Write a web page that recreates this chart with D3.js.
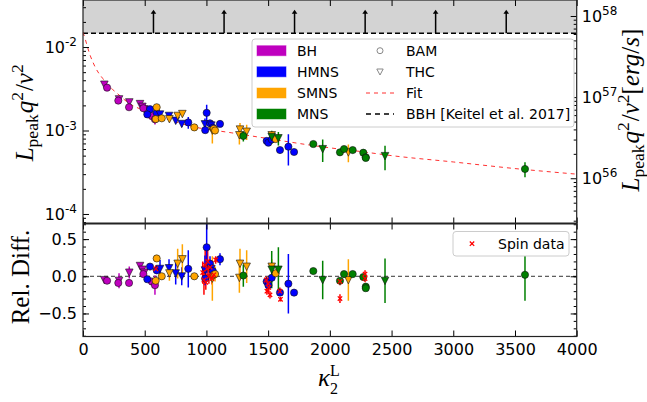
<!DOCTYPE html>
<html>
<head>
<meta charset="utf-8">
<style>
  body { margin: 0; background: #fff; }
  .tick text { font-family: "DejaVu Sans", sans-serif; font-size: 16px; fill: #000; }
  .leg { font-family: "DejaVu Sans", sans-serif; font-size: 14px; fill: #000; }
  .math { font-family: "Liberation Serif", serif; font-size: 25px; fill: #000; }
</style>
<script src="https://d3js.org/d3.v7.min.js"></script>
</head>
<body>
<svg id="chart" width="647" height="402"></svg>
<script>
// ---- data ----
const states = ['BH', 'HMNS', 'SMNS', 'MNS'];
const stateColors = ['#bf00bf', '#0000ff', '#ffa500', '#008000'];

const kappa = [173, 195, 292, 286, 375, 373, 462, 481, 497, 489, 557, 583,
  543, 521, 597, 624, 697, 751, 800, 853, 1002, 988, 990, 1029, 1040, 1052, 1110,
  1488, 1502, 1529, 1596, 1664, 1710,
  597, 589, 638, 700, 767, 805, 902, 1048, 1060, 1070, 1272, 1326, 1267, 1529, 1561, 2150,
  1299, 1529, 1583, 1866, 1942, 2082, 2115, 2185, 2271, 2291, 2291, 2447, 3581];
const lpeak = [0.00355, 0.00326, 0.00237, 0.00228, 0.00218, 0.00190, 0.00208, 0.00193, 0.00180, 0.00185, 0.00149, 0.00136,
  0.00180, 0.00156, 0.00163, 0.00156, 0.00150, 0.00131, 0.00120, 0.00125, 0.00163, 0.00119, 0.00101, 0.00122, 0.00115, 0.00108, 0.00120,
  0.00075, 0.000715, 0.00078, 0.000583, 0.00064, 0.000553,
  0.00190, 0.00137, 0.00140, 0.00137, 0.00150, 0.00158, 0.00109, 0.00100, 0.00105, 0.00100, 0.00103, 0.00097, 0.00088, 0.00088, 0.00079, 0.000548,
  0.00086, 0.00084, 0.00081, 0.000689, 0.00060, 0.000548, 0.00060, 0.000583, 0.000542, 0.000478, 0.000470, 0.000495, 0.000346];
const lpeakErr = [0.0001, 0.00008, 0.0002, 0.00006, 0.00015, 0.00006, 0.0001, 0.0001, 0.0001, 0.00005, 0.00005, 0.00018,
  0.00005, 0.00005, 0.00008, 0.00015, 0.0001, 0.0001, 0.0001, 0.0002, 0.0004, 0.0002, 0.00005, 0.0001, 0.0001, 0.00005, 0.00008,
  0.00004, 0.00004, 0.00005, 0.00003, 0.00026, 0.00003,
  0.00005, 0.00005, 0.00005, 0.0001, 0.0001, 0.0001, 0.00004, 0.0003, 0.00005, 0.0001, 0.0002, 0.0002, 0.0002, 0.0001, 0.00005, 0.00013,
  0.00012, 0.00015, 0.00015, 0.00003, 0.00018, 0.00003, 0.00003, 0.00003, 0.00003, 0.00003, 0.00003, 0.00016, 0.00007];
const relDiff = [-0.05, -0.06, -0.06, -0.09, 0.05, -0.09, 0.14, 0.09, 0.05, 0.03, -0.07, -0.12,
  0.13, -0.04, 0.08, 0.10, 0.11, 0.04, 0.00, 0.10, 0.39, 0.08, -0.03, 0.17, 0.10, 0.07, 0.23,
  -0.07, -0.12, -0.02, -0.22, -0.10, -0.22,
  0.24, -0.06, 0.00, 0.04, 0.17, 0.23, 0.00, -0.03, 0.02, 0.03, 0.17, 0.13, -0.02, 0.13, 0.04, -0.05,
  0.01, 0.09, 0.09, 0.07, -0.05, -0.06, 0.03, 0.03, -0.01, -0.14, -0.16, -0.06, 0.02];
const relErr = [0.02, 0.02, 0.10, 0.02, 0.08, 0.03, 0.04, 0.05, 0.05, 0.03, 0.03, 0.13,
  0.03, 0.03, 0.05, 0.12, 0.12, 0.15, 0.12, 0.25, 0.35, 0.20, 0.05, 0.10, 0.10, 0.05, 0.08,
  0.05, 0.05, 0.06, 0.03, 0.40, 0.03,
  0.04, 0.03, 0.03, 0.10, 0.20, 0.20, 0.03, 0.30, 0.05, 0.10, 0.20, 0.22, 0.20, 0.10, 0.05, 0.28,
  0.15, 0.25, 0.30, 0.02, 0.26, 0.03, 0.03, 0.03, 0.03, 0.03, 0.03, 0.30, 0.35];
const state = ['BH', 'BH', 'BH', 'BH', 'BH', 'BH', 'BH', 'BH', 'BH', 'BH', 'BH', 'BH',
  'HMNS', 'HMNS', 'HMNS', 'HMNS', 'HMNS', 'HMNS', 'HMNS', 'HMNS', 'HMNS', 'HMNS', 'HMNS', 'HMNS', 'HMNS', 'HMNS', 'HMNS',
  'HMNS', 'HMNS', 'HMNS', 'HMNS', 'HMNS', 'HMNS',
  'SMNS', 'SMNS', 'SMNS', 'SMNS', 'SMNS', 'SMNS', 'SMNS', 'SMNS', 'SMNS', 'SMNS', 'SMNS', 'SMNS', 'SMNS', 'SMNS', 'SMNS', 'SMNS',
  'MNS', 'MNS', 'MNS', 'MNS', 'MNS', 'MNS', 'MNS', 'MNS', 'MNS', 'MNS', 'MNS', 'MNS', 'MNS'];
const code = ['THC', 'BAM', 'THC', 'BAM', 'THC', 'BAM', 'THC', 'THC', 'THC', 'BAM', 'BAM', 'BAM',
  'BAM', 'BAM', 'BAM', 'THC', 'THC', 'THC', 'THC', 'BAM', 'BAM', 'THC', 'BAM', 'BAM', 'THC', 'BAM', 'BAM',
  'BAM', 'BAM', 'BAM', 'BAM', 'BAM', 'BAM',
  'BAM', 'BAM', 'BAM', 'THC', 'THC', 'THC', 'BAM', 'THC', 'BAM', 'BAM', 'THC', 'THC', 'THC', 'THC', 'BAM', 'THC',
  'BAM', 'THC', 'THC', 'BAM', 'THC', 'BAM', 'BAM', 'BAM', 'BAM', 'BAM', 'BAM', 'THC', 'BAM'];

// spinning configurations (lower panel only)
const spinKappa = [590, 970, 980, 990, 995, 1005, 1010, 1020, 1030, 1045, 1060, 1075,
  1485, 1490, 1500, 1505, 1515, 1600, 1595, 2082, 2082, 2285, 2285];
const spinRel = [0.10, 0.05, -0.05, 0.15, -0.08, 0.10, 0.20, 0.00, 0.12, -0.03, 0.02, 0.22,
  -0.05, -0.20, -0.10, -0.15, -0.25, -0.31, -0.20, -0.07, -0.30, 0.03, -0.03];
const spinErr = [0.05, 0.15, 0.20, 0.25, 0.10, 0.12, 0.15, 0.10, 0.10, 0.08, 0.05, 0.05,
  0.05, 0.05, 0.08, 0.06, 0.05, 0.03, 0.05, 0.05, 0.06, 0.05, 0.05];

// fit curve, sampled from the figure
const fitKappa = [0, 20, 40, 60, 80, 100, 130, 160, 190, 240, 300, 375, 460, 540, 600, 700, 800, 900,
  1000, 1200, 1500, 1866, 2000, 2250, 2500, 3000, 3500, 4000];
const fitL = [0.0150, 0.0122, 0.0096, 0.0078, 0.0066, 0.0057, 0.0048, 0.0042, 0.0036, 0.0031, 0.0026, 0.0021,
  0.00182, 0.00161, 0.0015, 0.00134, 0.00121, 0.0011, 0.00104, 0.00094, 0.0008, 0.00066, 0.00062,
  0.00056, 0.0005, 0.00042, 0.00035, 0.0003];

// BBH lower limit band
const bbhLimit = 0.0146;
const arrowKappa = [571, 1143, 1714, 2286, 2857, 3429];
const arrowTip = 0.028;

const xTicks = [0, 500, 1000, 1500, 2000, 2500, 3000, 3500, 4000];
const lTicks = [1e-4, 1e-3, 1e-2];
const ergTicks = [1e56, 1e57, 1e58];
const relTicks = [-0.5, 0, 0.5];

// ---- layout ----
const left = 83, right = 576.7, topY = 0, midY = 223.5, botY = 336.5;
const svg = d3.select('#chart');

const x = d3.scaleLinear().domain([0, 4000]).range([left, right]);
const yTop = d3.scaleLog().domain([7.69e-5, 0.0366]).range([midY, topY]);
const yErg = d3.scaleLog().domain([2.77e55, 1.574e58]).range([midY, topY]);
const yRel = d3.scaleLinear().domain([-0.81, 0.71]).range([botY, midY]);
const colorOf = s => stateColors[states.indexOf(s)];

const defs = svg.append('defs');
defs.append('clipPath').attr('id', 'clipTop').append('rect')
  .attr('x', left).attr('y', topY).attr('width', right - left).attr('height', midY - topY);
defs.append('clipPath').attr('id', 'clipBot').append('rect')
  .attr('x', left).attr('y', midY).attr('width', right - left).attr('height', botY - midY);

const pts = kappa.map((k, i) => ({k: k, L: lpeak[i], Le: lpeakErr[i], r: relDiff[i], re: relErr[i],
  c: colorOf(state[i]), code: code[i]}));

function marker(sel) {
  sel.append('path')
    .attr('d', d => d.code === 'BAM'
      ? d3.symbol(d3.symbolCircle, Math.PI * 3.6 * 3.6)()
      : 'M-3.8,-3.6L3.8,-3.6L0,3.9Z')
    .attr('fill', d => d.c)
    .attr('stroke', '#111')
    .attr('stroke-width', 0.6);
}

// ---- top panel ----
const topG = svg.append('g').attr('clip-path', 'url(#clipTop)');
topG.append('rect')
  .attr('x', left).attr('y', topY).attr('width', right - left)
  .attr('height', yTop(bbhLimit) - topY).attr('fill', '#d3d3d3');

arrowKappa.forEach(k => {
  topG.append('line')
    .attr('x1', x(k)).attr('x2', x(k))
    .attr('y1', yTop(bbhLimit)).attr('y2', yTop(arrowTip) + 3)
    .attr('stroke', '#000').attr('stroke-width', 1.5);
  topG.append('path')
    .attr('d', `M${x(k) - 2.8},${yTop(arrowTip) + 4}L${x(k) + 2.8},${yTop(arrowTip) + 4}L${x(k)},${yTop(arrowTip)}Z`)
    .attr('fill', '#000');
});

topG.append('line')
  .attr('x1', left).attr('x2', right)
  .attr('y1', yTop(bbhLimit)).attr('y2', yTop(bbhLimit))
  .attr('stroke', '#000').attr('stroke-width', 1.6).attr('stroke-dasharray', '5,3');

topG.append('path')
  .datum(fitKappa.map((k, i) => [k, fitL[i]]))
  .attr('d', d3.line().x(d => x(d[0])).y(d => yTop(d[1])).curve(d3.curveMonotoneX))
  .attr('fill', 'none').attr('stroke', '#ff3030').attr('stroke-width', 1)
  .attr('stroke-dasharray', '4,4');

topG.selectAll('line.err').data(pts).enter().append('line')
  .attr('x1', d => x(d.k)).attr('x2', d => x(d.k))
  .attr('y1', d => yTop(d.L - d.Le)).attr('y2', d => yTop(d.L + d.Le))
  .attr('stroke', d => d.c).attr('stroke-width', 1.5);

topG.selectAll('g.pt').data(pts).enter().append('g')
  .attr('transform', d => `translate(${x(d.k)},${yTop(d.L)})`)
  .call(marker);

// ---- bottom panel ----
const botG = svg.append('g').attr('clip-path', 'url(#clipBot)');
botG.append('line')
  .attr('x1', left).attr('x2', right).attr('y1', yRel(0)).attr('y2', yRel(0))
  .attr('stroke', '#333').attr('stroke-width', 1).attr('stroke-dasharray', '4,3');

const spin = spinKappa.map((k, i) => ({k: k, r: spinRel[i], re: spinErr[i]}));
botG.selectAll('line.serr').data(spin).enter().append('line')
  .attr('x1', d => x(d.k)).attr('x2', d => x(d.k))
  .attr('y1', d => yRel(d.r - d.re)).attr('y2', d => yRel(d.r + d.re))
  .attr('stroke', '#ff0000').attr('stroke-width', 1.5);

botG.selectAll('line.err').data(pts).enter().append('line')
  .attr('x1', d => x(d.k)).attr('x2', d => x(d.k))
  .attr('y1', d => yRel(d.r - d.re)).attr('y2', d => yRel(d.r + d.re))
  .attr('stroke', d => d.c).attr('stroke-width', 1.5);

botG.selectAll('g.pt').data(pts).enter().append('g')
  .attr('transform', d => `translate(${x(d.k)},${yRel(d.r)})`)
  .call(marker);

function cross(sel) {
  sel.append('path').attr('d', 'M-2.2,-2.2L2.2,2.2M-2.2,2.2L2.2,-2.2')
    .attr('stroke', '#ff0000').attr('stroke-width', 1.3);
}
botG.selectAll('g.spin').data(spin).enter().append('g')
  .attr('transform', d => `translate(${x(d.k)},${yRel(d.r)})`)
  .call(cross);

// ---- axes ----
function supLabels(g) {
  g.selectAll('.tick text').each(function(d) {
    const e = Math.round(Math.log10(d));
    const t = d3.select(this).text(null);
    t.append('tspan').text('10');
    t.append('tspan').attr('dy', '-0.55em').attr('font-size', '12px').text(e < 0 ? '-' + (-e) : e);
  });
}
function minorLog(scale) {
  const [a, b] = scale.domain();
  const out = [];
  for (let e = Math.floor(Math.log10(a)); e <= Math.ceil(Math.log10(b)); e++) {
    for (let m = 2; m <= 9; m++) {
      const v = m * Math.pow(10, e);
      if (v >= a && v <= b) out.push(v);
    }
  }
  return out;
}
function clean(g) {
  g.select('.domain').remove();
  g.selectAll('.tick line').attr('stroke', '#000');
}

svg.append('g').attr('transform', `translate(${left},0)`)
  .call(d3.axisLeft(yTop).tickValues(lTicks).tickSize(-6).tickPadding(6))
  .call(clean).call(supLabels);
svg.append('g').attr('transform', `translate(${left},0)`)
  .call(d3.axisLeft(yTop).tickValues(minorLog(yTop)).tickSize(-3).tickFormat(''))
  .call(clean);
svg.append('g').attr('transform', `translate(${right},0)`)
  .call(d3.axisRight(yErg).tickValues(ergTicks).tickSize(-6).tickPadding(5))
  .call(clean).call(supLabels);
svg.append('g').attr('transform', `translate(${right},0)`)
  .call(d3.axisRight(yErg).tickValues(minorLog(yErg)).tickSize(-3).tickFormat(''))
  .call(clean);

svg.append('g').attr('transform', `translate(0,${midY})`)
  .call(d3.axisBottom(x).tickValues(xTicks).tickSize(-6).tickFormat('')).call(clean);
svg.append('g').attr('transform', `translate(0,${topY})`)
  .call(d3.axisTop(x).tickValues(xTicks).tickSize(-6).tickFormat('')).call(clean);
svg.append('g').attr('transform', `translate(0,${midY})`)
  .call(d3.axisTop(x).tickValues(xTicks).tickSize(-6).tickFormat('')).call(clean);
svg.append('g').attr('transform', `translate(0,${botY})`)
  .call(d3.axisBottom(x).tickValues(xTicks).tickSize(-6).tickPadding(7).tickFormat(d3.format('d')))
  .call(clean);

const relMinor = d3.range(-0.8, 0.71, 0.1).map(v => Math.round(v * 10) / 10);
svg.append('g').attr('transform', `translate(${left},0)`)
  .call(d3.axisLeft(yRel).tickValues(relTicks).tickSize(-6).tickPadding(6).tickFormat(d3.format('.1f')))
  .call(clean);
svg.append('g').attr('transform', `translate(${left},0)`)
  .call(d3.axisLeft(yRel).tickValues(relMinor).tickSize(-3).tickFormat('')).call(clean);
svg.append('g').attr('transform', `translate(${right},0)`)
  .call(d3.axisRight(yRel).tickValues(relTicks).tickSize(-6).tickFormat('')).call(clean);
svg.append('g').attr('transform', `translate(${right},0)`)
  .call(d3.axisRight(yRel).tickValues(relMinor).tickSize(-3).tickFormat('')).call(clean);

// spines
svg.append('rect').attr('x', left).attr('y', topY).attr('width', right - left).attr('height', botY - topY)
  .attr('fill', 'none').attr('stroke', '#222').attr('stroke-width', 1.2);
svg.append('line').attr('x1', left).attr('x2', right).attr('y1', midY).attr('y2', midY)
  .attr('stroke', '#222').attr('stroke-width', 2.2);

// ---- legends ----
const leg = svg.append('g');
leg.append('rect').attr('x', 252).attr('y', 39).attr('width', 322).attr('height', 88)
  .attr('rx', 3).attr('fill', '#fff').attr('stroke', '#ccc');
const rowY = [50.7, 71.8, 93, 114];
states.forEach((s, i) => {
  leg.append('rect').attr('x', 257).attr('y', rowY[i] - 5).attr('width', 29).attr('height', 10)
    .attr('fill', stateColors[i]).attr('stroke', stateColors[i]).attr('stroke-opacity', 0.5);
  leg.append('text').attr('class', 'leg').attr('x', 297).attr('y', rowY[i])
    .attr('dominant-baseline', 'central').text(s);
});
leg.append('circle').attr('cx', 380).attr('cy', rowY[0]).attr('r', 3)
  .attr('fill', 'none').attr('stroke', '#888');
leg.append('path').attr('d', `M376.8,${rowY[1] - 2.8}L383.2,${rowY[1] - 2.8}L380,${rowY[1] + 3.2}Z`)
  .attr('fill', 'none').attr('stroke', '#888');
leg.append('line').attr('x1', 366).attr('x2', 394).attr('y1', rowY[2]).attr('y2', rowY[2])
  .attr('stroke', '#ff3030').attr('stroke-dasharray', '4,4');
leg.append('line').attr('x1', 366).attr('x2', 394).attr('y1', rowY[3]).attr('y2', rowY[3])
  .attr('stroke', '#000').attr('stroke-width', 1.6).attr('stroke-dasharray', '5,4');
['BAM', 'THC', 'Fit', 'BBH [Keitel et al. 2017]'].forEach((t, i) => {
  leg.append('text').attr('class', 'leg').attr('x', 406).attr('y', rowY[i])
    .attr('dominant-baseline', 'central').text(t);
});

const leg2 = svg.append('g');
leg2.append('rect').attr('x', 453).attr('y', 231.5).attr('width', 116).attr('height', 24.5)
  .attr('rx', 3).attr('fill', '#fff').attr('stroke', '#ccc');
leg2.append('g').attr('transform', 'translate(472,243.7)').call(cross);
leg2.append('text').attr('class', 'leg').attr('x', 498).attr('y', 243.7)
  .attr('dominant-baseline', 'central').text('Spin data');

// ---- axis titles ----
function mathText(t, parts) {
  let shift = 0;
  parts.forEach(p => {
    const target = p.sub ? 5 : p.sup ? -10 : 0;
    const ts = t.append('tspan').attr('dy', target - shift).text(p.t);
    if (p.it) ts.attr('font-style', 'italic');
    if (p.sub || p.sup) ts.attr('font-size', '17.5px');
    if (p.dx) ts.attr('dx', p.dx);
    shift = target;
  });
  if (shift) t.append('tspan').attr('dy', -shift).text('\u200a');
}
const lpeakParts = [{t: 'L', it: true}, {t: 'peak', sub: true}, {t: 'q', it: true, dx: 1},
  {t: '2', sup: true}, {t: '/', dx: 1}, {t: 'ν', it: true}, {t: '2', sup: true}];

mathText(svg.append('text').attr('class', 'math').attr('text-anchor', 'middle')
  .attr('transform', `translate(33,${(topY + midY) / 2}) rotate(-90)`), lpeakParts);

mathText(svg.append('text').attr('class', 'math').attr('text-anchor', 'middle')
  .attr('transform', 'translate(639,110) rotate(-90)'),
  lpeakParts.concat([{t: '['}, {t: 'erg', it: true}, {t: '/'}, {t: 's', it: true}, {t: ']'}]));

svg.append('text').attr('class', 'math').attr('text-anchor', 'middle')
  .attr('transform', 'translate(28.5,277) rotate(-90)').text('Rel. Diff.');

const xl = svg.append('text').attr('class', 'math').attr('x', 318).attr('y', 386);
xl.append('tspan').attr('font-style', 'italic').text('κ');
xl.append('tspan').attr('font-size', '16px').attr('dy', -10).text('L');
xl.append('tspan').attr('font-size', '16px').attr('dx', -9.8).attr('dy', 18).text('2');
</script>
</body>
</html>
